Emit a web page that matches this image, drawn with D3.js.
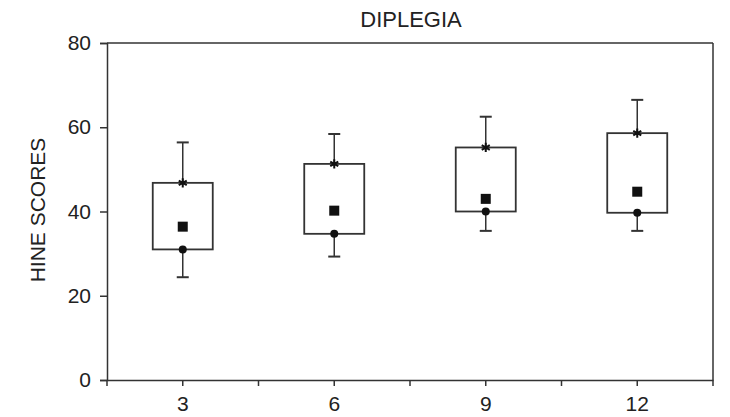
<!DOCTYPE html>
<html>
<head>
<meta charset="utf-8">
<script src="https://cdn.jsdelivr.net/npm/d3@7"></script>
<style>
  body { margin: 0; background: #fff; }
  text { font-family: "Liberation Sans", Arial, sans-serif; fill: #222; }
</style>
</head>
<body>
<script>
var months = ["3", "6", "9", "12"];
var whiskerHigh = [56.4, 58.4, 62.5, 66.5];
var boxTop = [46.8, 51.3, 55.2, 58.6];
var means = [36.4, 40.2, 43.0, 44.7];
var boxBottom = [31.0, 34.7, 40.0, 39.7];
var whiskerLow = [24.4, 29.3, 35.4, 35.4];
var yTicks = [0, 20, 40, 60, 80];

var data = months.map(function (m, i) {
    return { month: m, hi: whiskerHigh[i], q3: boxTop[i], mean: means[i], q1: boxBottom[i], lo: whiskerLow[i] };
});

// plot area edges (note: "top" is taken by window.top)
var pLeft = 107, pRight = 713, pTop = 43, pBottom = 380;

var svg = d3.select('body').append('svg')
    .attr('width', 730)
    .attr('height', 417);

var x = d3.scaleBand().domain(months).range([pLeft, pRight]);
var y = d3.scaleLinear().domain([0, 80]).range([pBottom, pTop]);

var stroke = '#333';
var fontSize = '21px';

// frame top and right
svg.append('line').attr('x1', pLeft).attr('x2', pRight).attr('y1', pTop).attr('y2', pTop)
    .attr('stroke', stroke).attr('stroke-width', 1.5);
svg.append('line').attr('x1', pRight).attr('x2', pRight).attr('y1', pTop).attr('y2', pBottom)
    .attr('stroke', stroke).attr('stroke-width', 1.5);

// y axis
var yAxis = svg.append('g').attr('transform', 'translate(' + pLeft + ',0)')
    .call(d3.axisLeft(y).tickValues(yTicks).tickSize(7).tickPadding(9));
yAxis.select('.domain').attr('stroke', stroke).attr('stroke-width', 1.5);
yAxis.selectAll('.tick line').attr('stroke', stroke).attr('stroke-width', 1.5);
yAxis.selectAll('.tick text').style('font-size', fontSize).attr('fill', '#222');

// x axis: labels at band centres, ticks at centres and band edges
var xAxis = svg.append('g').attr('transform', 'translate(0,' + pBottom + ')')
    .call(d3.axisBottom(x).tickSize(6).tickPadding(10).tickSizeOuter(0));
xAxis.select('.domain').attr('stroke', stroke).attr('stroke-width', 1.5);
xAxis.selectAll('.tick line').attr('stroke', stroke).attr('stroke-width', 1.5);
xAxis.selectAll('.tick text').style('font-size', fontSize).attr('fill', '#222');
var edges = months.map(function (m) { return x(m); }).concat([pRight]);
xAxis.selectAll('.edge').data(edges).enter().append('line')
    .attr('x1', function (d) { return d; }).attr('x2', function (d) { return d; })
    .attr('y1', 0).attr('y2', 6)
    .attr('stroke', stroke).attr('stroke-width', 1.5);

// title and axis label
svg.append('text').attr('x', 411).attr('y', 27).attr('text-anchor', 'middle')
    .style('font-size', '22px').text('DIPLEGIA');
svg.append('text').attr('transform', 'translate(45,210) rotate(-90)')
    .attr('text-anchor', 'middle').style('font-size', fontSize).text('HINE SCORES');

var boxW = 60, capW = 12;
var g = svg.selectAll('.box').data(data).enter().append('g')
    .attr('transform', function (d) { return 'translate(' + (x(d.month) + x.bandwidth() / 2) + ',0)'; });

// whiskers
g.append('line').attr('x1', 0).attr('x2', 0)
    .attr('y1', function (d) { return y(d.hi); }).attr('y2', function (d) { return y(d.q3); })
    .attr('stroke', stroke).attr('stroke-width', 1.5);
g.append('line').attr('x1', 0).attr('x2', 0)
    .attr('y1', function (d) { return y(d.q1); }).attr('y2', function (d) { return y(d.lo); })
    .attr('stroke', stroke).attr('stroke-width', 1.5);
g.append('line').attr('x1', -capW / 2).attr('x2', capW / 2)
    .attr('y1', function (d) { return y(d.hi); }).attr('y2', function (d) { return y(d.hi); })
    .attr('stroke', stroke).attr('stroke-width', 2);
g.append('line').attr('x1', -capW / 2).attr('x2', capW / 2)
    .attr('y1', function (d) { return y(d.lo); }).attr('y2', function (d) { return y(d.lo); })
    .attr('stroke', stroke).attr('stroke-width', 2);

// boxes
g.append('rect').attr('x', -boxW / 2).attr('width', boxW)
    .attr('y', function (d) { return y(d.q3); })
    .attr('height', function (d) { return y(d.q1) - y(d.q3); })
    .attr('fill', '#fff').attr('stroke', stroke).attr('stroke-width', 1.8);

// star marker at box top
var star = d3.symbol().type(d3.symbolAsterisk).size(60);
g.append('path').attr('d', star)
    .attr('transform', function (d) { return 'translate(0,' + y(d.q3) + ')'; })
    .attr('fill', 'none').attr('stroke', '#111').attr('stroke-width', 2);

// dot at box bottom
g.append('circle').attr('cx', 0).attr('cy', function (d) { return y(d.q1); })
    .attr('r', 4).attr('fill', '#111');

// mean square
g.append('rect').attr('x', -5).attr('width', 10)
    .attr('y', function (d) { return y(d.mean) - 5; }).attr('height', 10)
    .attr('fill', '#111');
</script>
</body>
</html>
